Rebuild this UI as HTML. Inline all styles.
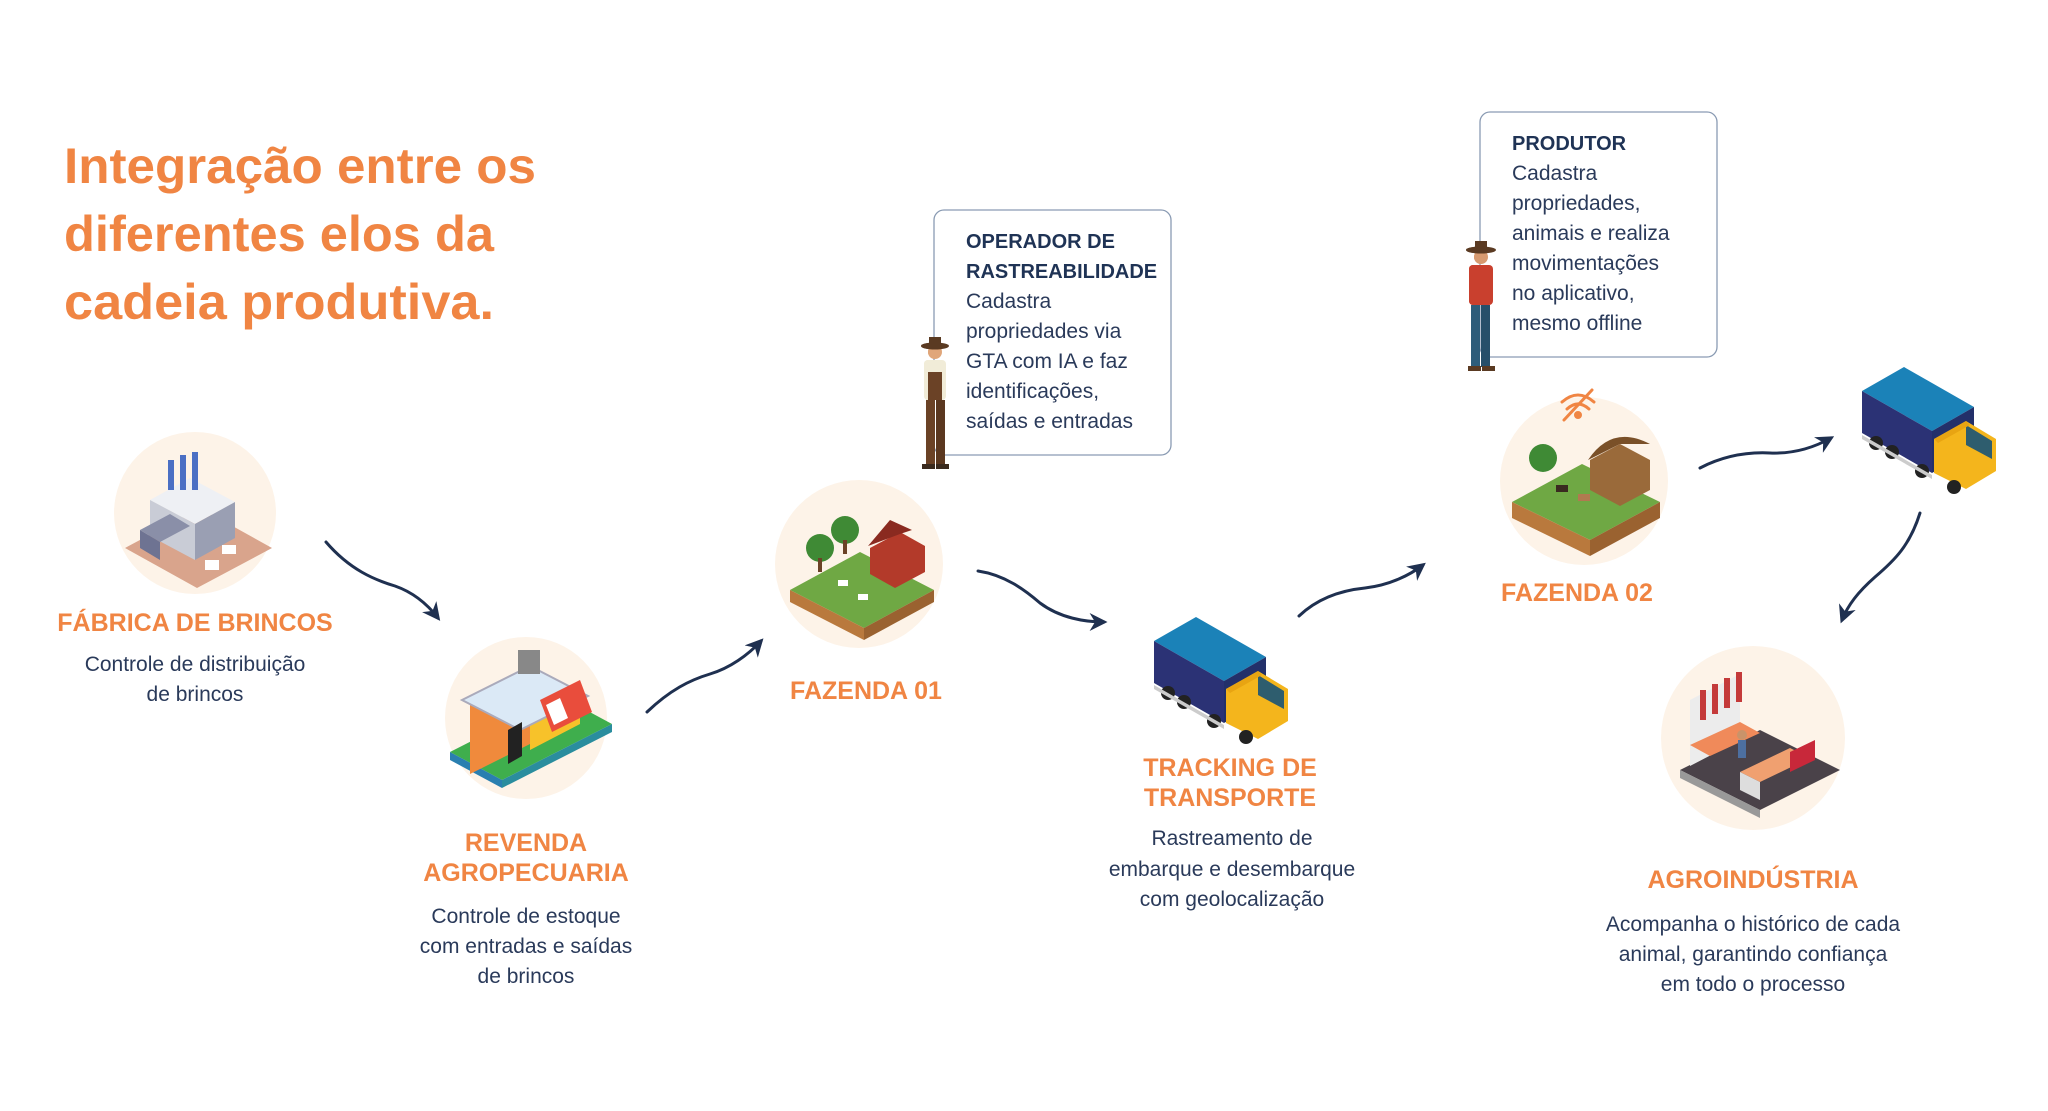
<!DOCTYPE html>
<html><head><meta charset="utf-8"><style>
html,body{margin:0;padding:0;background:#fff;}
svg{display:block;}
text{font-family:"Liberation Sans",sans-serif;}
.t{fill:#F08543;font-weight:bold;font-size:50px;}
.h{fill:#F08543;font-weight:bold;font-size:25px;text-anchor:middle;}
.d{fill:#2a3a5a;font-size:21px;text-anchor:middle;}
.bh{fill:#1f3355;font-weight:bold;font-size:20px;}
.bd{fill:#2a3a5a;font-size:21px;}
.ar{fill:none;stroke:#1f3050;stroke-width:3;stroke-linecap:round;}
</style></head><body>
<svg width="2048" height="1111" viewBox="0 0 2048 1111" xmlns="http://www.w3.org/2000/svg">
<defs>
<marker id="ah" viewBox="0 0 10 10" refX="8" refY="5" markerWidth="6" markerHeight="6" orient="auto"><path d="M0,0 L10,5 L0,10 L3,5 z" fill="#1f3050"/></marker>
<g id="truck">
 <polygon points="0,32 42,8 112,48 70,72" fill="#1b82b8"/>
 <polygon points="0,32 70,72 70,114 0,74" fill="#2b3275"/>
 <polygon points="70,72 112,48 112,90 70,114" fill="#23306a"/>
 <polygon points="72,80 104,62 134,80 134,112 104,130 72,114" fill="#f4b51c"/>
 <polygon points="104,66 130,82 130,100 104,86" fill="#2e5d6e"/>
 <polygon points="72,80 104,62 108,66 76,84" fill="#e8a412"/>
 <circle cx="14" cy="84" r="7" fill="#222"/><circle cx="30" cy="93" r="7" fill="#222"/>
 <circle cx="60" cy="112" r="7" fill="#222"/><circle cx="92" cy="128" r="7" fill="#222"/>
 <polygon points="0,76 70,116 70,120 0,80" fill="#ccc"/>
</g>
</defs>

<!-- Title -->
<text class="t" x="64" y="183" textLength="472" lengthAdjust="spacingAndGlyphs">Integração entre os</text>
<text class="t" x="64" y="251" textLength="430" lengthAdjust="spacingAndGlyphs">diferentes elos da</text>
<text class="t" x="64" y="319" textLength="430" lengthAdjust="spacingAndGlyphs">cadeia produtiva.</text>

<!-- circles -->
<circle cx="195" cy="513" r="81" fill="#fdf3e8"/>
<circle cx="526" cy="718" r="81" fill="#fdf3e8"/>
<circle cx="859" cy="564" r="84" fill="#fdf3e8"/>
<circle cx="1584" cy="481" r="84" fill="#fdf3e8"/>
<circle cx="1753" cy="738" r="92" fill="#fdf3e8"/>

<!-- factory -->
<g>
 <polygon points="125,548 200,508 272,548 197,588" fill="#d9a48c"/>
 <polygon points="150,500 190,478 235,502 195,524" fill="#eef0f4"/>
 <polygon points="150,500 195,524 195,560 150,536" fill="#c9ccd6"/>
 <polygon points="195,524 235,502 235,538 195,560" fill="#9a9fb3"/>
 <polygon points="140,530 170,514 190,526 160,542" fill="#8a8fa8"/>
 <polygon points="140,530 160,542 160,560 140,548" fill="#6e7392"/>
 <rect x="168" y="460" width="6" height="30" fill="#4b6fc4"/>
 <rect x="180" y="455" width="6" height="35" fill="#4b6fc4"/>
 <rect x="192" y="452" width="6" height="38" fill="#4b6fc4"/>
 <rect x="205" y="560" width="14" height="10" fill="#fff"/><rect x="222" y="545" width="14" height="9" fill="#fff"/>
</g>
<!-- shop -->
<g>
 <polygon points="450,752 560,696 612,724 502,780" fill="#3fae4d"/>
 <polygon points="450,752 502,780 502,788 450,760" fill="#2a7fb0"/>
 <polygon points="502,780 612,724 612,732 502,788" fill="#2a8d9e"/>
 <polygon points="470,702 530,672 530,744 470,774" fill="#f08a3c"/>
 <polygon points="530,672 580,698 580,724 530,750" fill="#f7c22a"/>
 <polygon points="462,700 530,666 588,696 520,730" fill="#dbe9f6" stroke="#aab" stroke-width="2"/>
 <polygon points="540,700 580,680 592,712 552,732" fill="#e94d3c"/>
 <polygon points="546,705 560,698 568,718 554,725" fill="#fff"/>
 <rect x="518" y="650" width="22" height="24" fill="#888"/>
 <polygon points="508,730 522,722 522,756 508,764" fill="#222"/>
</g>
<!-- farm 01 -->
<g>
 <polygon points="790,590 860,552 934,590 864,628" fill="#6fa844"/>
 <polygon points="790,590 864,628 864,640 790,602" fill="#b9793d"/>
 <polygon points="864,628 934,590 934,602 864,640" fill="#9a6230"/>
 <polygon points="870,548 900,532 925,546 925,572 895,588 870,574" fill="#b33a2a"/>
 <polygon points="868,546 890,520 912,530 900,534" fill="#8a2a20"/>
 <circle cx="820" cy="548" r="14" fill="#3f8a35"/><circle cx="845" cy="530" r="14" fill="#3f8a35"/>
 <rect x="818" y="558" width="4" height="14" fill="#6b4226"/><rect x="843" y="540" width="4" height="14" fill="#6b4226"/>
 <rect x="838" y="580" width="10" height="6" fill="#fff"/><rect x="858" y="594" width="10" height="6" fill="#fff"/>
</g>
<!-- farm 02 -->
<g>
 <polygon points="1512,502 1582,464 1660,502 1590,540" fill="#6fa844"/>
 <polygon points="1512,502 1590,540 1590,556 1512,518" fill="#b9793d"/>
 <polygon points="1590,540 1660,502 1660,518 1590,556" fill="#9a6230"/>
 <polygon points="1590,460 1620,444 1650,460 1650,490 1620,506 1590,490" fill="#9a6a3a"/>
 <path d="M1588,460 Q1612,424 1650,444 L1620,444 Z" fill="#7a5028"/>
 <circle cx="1543" cy="458" r="14" fill="#3f8a35"/>
 <rect x="1556" y="485" width="12" height="7" fill="#3a2a20"/><rect x="1578" y="494" width="12" height="7" fill="#b07a50"/>
</g>
<!-- wifi off -->
<g fill="none" stroke="#F08543" stroke-width="3" stroke-linecap="round">
 <path d="M1562,402 Q1578,388 1594,402"/><path d="M1567,409 Q1578,399 1589,409"/>
 <circle cx="1578" cy="415" r="2.5" fill="#F08543"/><line x1="1564" y1="420" x2="1592" y2="390"/>
</g>
<!-- agro -->
<g>
 <polygon points="1680,770 1760,730 1840,770 1760,810" fill="#4a4249"/>
 <polygon points="1680,770 1760,810 1760,818 1680,778" fill="#999"/>
 <polygon points="1690,700 1740,674 1740,740 1690,766" fill="#ececec"/>
 <g fill="#c43a3a"><rect x="1700" y="690" width="6" height="30"/><rect x="1712" y="684" width="6" height="30"/><rect x="1724" y="678" width="6" height="30"/><rect x="1736" y="672" width="6" height="30"/></g>
 <polygon points="1690,745 1740,722 1760,733 1710,756" fill="#f08a5a"/>
 <polygon points="1740,772 1790,748 1810,758 1760,782" fill="#f0a070"/>
 <polygon points="1740,772 1760,782 1760,800 1740,790" fill="#ddd"/>
 <polygon points="1790,752 1815,740 1815,760 1790,772" fill="#c8283a"/>
 <circle cx="1742" cy="735" r="5" fill="#c9936a"/><rect x="1738" y="740" width="8" height="18" fill="#4d6fa0"/>
</g>
<!-- trucks -->
<use href="#truck" x="1154" y="609"/>
<use href="#truck" x="1862" y="359"/>

<!-- people -->
<g>
 <ellipse cx="935" cy="346" rx="14" ry="3.5" fill="#5a3a22"/><rect x="929" y="337" width="12" height="9" fill="#5a3a22"/>
 <circle cx="935" cy="352" r="7" fill="#e0a67a"/>
 <rect x="924" y="360" width="22" height="40" rx="4" fill="#f1ecd8"/>
 <rect x="928" y="372" width="14" height="28" fill="#6b4226"/>
 <rect x="926" y="400" width="9" height="64" fill="#6b4226"/><rect x="936" y="400" width="9" height="64" fill="#5b3820"/>
 <rect x="922" y="464" width="13" height="5" fill="#3a2a1e"/><rect x="936" y="464" width="13" height="5" fill="#3a2a1e"/>
</g>
<g>
 <ellipse cx="1481" cy="250" rx="15" ry="3.5" fill="#5a3a22"/><rect x="1475" y="241" width="12" height="9" fill="#5a3a22"/>
 <circle cx="1481" cy="257" r="7" fill="#d79a70"/>
 <rect x="1469" y="265" width="24" height="40" rx="4" fill="#c9402e"/>
 <rect x="1471" y="305" width="9" height="62" fill="#2e5d7a"/><rect x="1481" y="305" width="9" height="62" fill="#264f6a"/>
 <rect x="1468" y="366" width="13" height="5" fill="#5a3a22"/><rect x="1482" y="366" width="13" height="5" fill="#5a3a22"/>
</g>

<!-- boxes -->
<rect x="934" y="210" width="237" height="245" rx="10" fill="#fff" stroke="#8a9bb3" stroke-width="1.3"/>
<rect x="1480" y="112" width="237" height="245" rx="10" fill="#fff" stroke="#8a9bb3" stroke-width="1.3"/>
<!-- re-draw heads/bodies overlapping left edge -->
<g>
 <rect x="924" y="360" width="22" height="40" rx="4" fill="#f1ecd8"/>
 <rect x="928" y="372" width="14" height="28" fill="#6b4226"/>
 <rect x="926" y="400" width="9" height="64" fill="#6b4226"/><rect x="936" y="400" width="9" height="64" fill="#5b3820"/>
 <circle cx="935" cy="352" r="7" fill="#e0a67a"/>
 <ellipse cx="935" cy="346" rx="14" ry="3.5" fill="#5a3a22"/><rect x="929" y="337" width="12" height="9" fill="#5a3a22"/>
 <rect x="922" y="464" width="13" height="5" fill="#3a2a1e"/><rect x="936" y="464" width="13" height="5" fill="#3a2a1e"/>
</g>
<g>
 <rect x="1469" y="265" width="24" height="40" rx="4" fill="#c9402e"/>
 <rect x="1471" y="305" width="9" height="62" fill="#2e5d7a"/><rect x="1481" y="305" width="9" height="62" fill="#264f6a"/>
 <circle cx="1481" cy="257" r="7" fill="#d79a70"/>
 <ellipse cx="1481" cy="250" rx="15" ry="3.5" fill="#5a3a22"/><rect x="1475" y="241" width="12" height="9" fill="#5a3a22"/>
 <rect x="1468" y="366" width="13" height="5" fill="#5a3a22"/><rect x="1482" y="366" width="13" height="5" fill="#5a3a22"/>
</g>

<text class="bh" x="966" y="248">OPERADOR DE</text>
<text class="bh" x="966" y="278">RASTREABILIDADE</text>
<text class="bd" x="966" y="308">Cadastra</text>
<text class="bd" x="966" y="338">propriedades via</text>
<text class="bd" x="966" y="368">GTA com IA e faz</text>
<text class="bd" x="966" y="398">identificações,</text>
<text class="bd" x="966" y="428">saídas e entradas</text>

<text class="bh" x="1512" y="150">PRODUTOR</text>
<text class="bd" x="1512" y="180">Cadastra</text>
<text class="bd" x="1512" y="210">propriedades,</text>
<text class="bd" x="1512" y="240">animais e realiza</text>
<text class="bd" x="1512" y="270">movimentações</text>
<text class="bd" x="1512" y="300">no aplicativo,</text>
<text class="bd" x="1512" y="330">mesmo offline</text>

<!-- labels -->
<text class="h" x="195" y="631">FÁBRICA DE BRINCOS</text>
<text class="d" x="195" y="671">Controle de distribuição</text>
<text class="d" x="195" y="701">de brincos</text>

<text class="h" x="526" y="851">REVENDA</text>
<text class="h" x="526" y="881">AGROPECUARIA</text>
<text class="d" x="526" y="923">Controle de estoque</text>
<text class="d" x="526" y="953">com entradas e saídas</text>
<text class="d" x="526" y="983">de brincos</text>

<text class="h" x="866" y="699">FAZENDA 01</text>

<text class="h" x="1230" y="776">TRACKING DE</text>
<text class="h" x="1230" y="806">TRANSPORTE</text>
<text class="d" x="1232" y="845">Rastreamento de</text>
<text class="d" x="1232" y="876">embarque e desembarque</text>
<text class="d" x="1232" y="906">com geolocalização</text>

<text class="h" x="1577" y="601">FAZENDA 02</text>

<text class="h" x="1753" y="888">AGROINDÚSTRIA</text>
<text class="d" x="1753" y="931">Acompanha o histórico de cada</text>
<text class="d" x="1753" y="961">animal, garantindo confiança</text>
<text class="d" x="1753" y="991">em todo o processo</text>

<!-- arrows -->
<path class="ar" marker-end="url(#ah)" d="M326,542 C350,570 375,580 395,586 C415,593 428,605 438,618"/>
<path class="ar" marker-end="url(#ah)" d="M647,712 C670,690 690,680 710,674 C730,668 748,655 761,641"/>
<path class="ar" marker-end="url(#ah)" d="M978,571 C1005,575 1025,590 1040,603 C1060,618 1085,622 1104,622"/>
<path class="ar" marker-end="url(#ah)" d="M1299,616 C1320,596 1345,590 1365,588 C1390,585 1410,575 1423,565"/>
<path class="ar" marker-end="url(#ah)" d="M1700,468 C1725,455 1750,452 1770,453 C1795,454 1815,447 1831,438"/>
<path class="ar" marker-end="url(#ah)" d="M1920,513 C1910,545 1895,560 1875,577 C1858,592 1848,605 1842,620"/>
</svg>
</body></html>
